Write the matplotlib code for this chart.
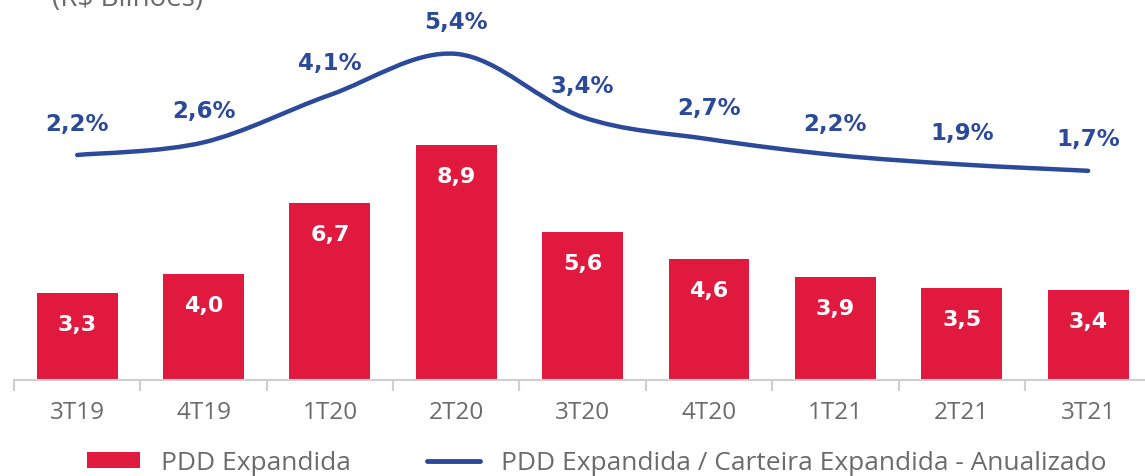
import matplotlib
matplotlib.use("Agg")
import matplotlib.pyplot as plt
import numpy as np
from matplotlib.path import Path
from matplotlib.patches import PathPatch, Patch
from matplotlib.lines import Line2D

categories = ["3T19", "4T19", "1T20", "2T20", "3T20", "4T20", "1T21", "2T21", "3T21"]
pdd = [3.3, 4.0, 6.7, 8.9, 5.6, 4.6, 3.9, 3.5, 3.4]
ratio = [2.2, 2.6, 4.1, 5.4, 3.4, 2.7, 2.2, 1.9, 1.7]

RED = "#E1193F"
BLUE = "#2C4A9A"
GREY = "#6b6b6b"

fig = plt.figure(figsize=(11.45, 4.76), dpi=100)
ax = fig.add_axes([14/1145, 96/476, 1131/1145, 380/476])
x = np.arange(len(categories))

ax.bar(x, pdd, width=0.64, color=RED, zorder=2)
ax.set_xlim(-0.5, 8.45)
ax.set_ylim(0, 14.39)
for s in ["top", "right", "left"]:
    ax.spines[s].set_visible(False)
ax.spines["bottom"].set_color("#cfcfcf")
ax.spines["bottom"].set_linewidth(1.5)
ax.set_yticks([])
ax.set_xticks(np.arange(-0.5, 8.5, 1.0))
ax.set_xticklabels([])
ax.tick_params(axis="x", length=8, width=1.5, color="#cfcfcf")
ax.set_xticks(x, minor=True)
ax.set_xticklabels(categories, minor=True, fontsize=17.5, color=GREY, family="Open Sans")
ax.tick_params(axis="x", which="minor", length=0, pad=15)

for xi, v in zip(x, pdd):
    ax.annotate(f"{v:.1f}".replace(".", ","), (xi, v), xytext=(0, -32), textcoords="offset pixels",
                ha="center", va="center", color="white", fontsize=16, fontweight="bold", family="DejaVu Sans")

ax2 = ax.twinx()
ax2.set_ylim(-4.92, 7.105)
ax2.axis("off")

# smooth curve through the data points (Catmull-Rom -> Bezier)
pts = np.column_stack([x, ratio]).astype(float)
verts = [tuple(pts[0])]
codes = [Path.MOVETO]
n = len(pts)
t = 1/6
for i in range(n - 1):
    p0 = pts[i - 1] if i > 0 else pts[i]
    p1 = pts[i]
    p2 = pts[i + 1]
    p3 = pts[i + 2] if i + 2 < n else pts[i + 1]
    c1 = p1 + (p2 - p0) * t
    c2 = p2 - (p3 - p1) * t
    verts += [tuple(c1), tuple(c2), tuple(p2)]
    codes += [Path.CURVE4] * 3
ax2.add_patch(PathPatch(Path(verts, codes), facecolor="none", edgecolor=BLUE, lw=3.2, capstyle="round", zorder=3))

for xi, v in zip(x, ratio):
    ax2.annotate(f"{v:.1f}%".replace(".", ","), (xi, v), xytext=(0, 31), textcoords="offset pixels",
                 ha="center", va="center", color=BLUE, fontsize=16.5, fontweight="bold", family="DejaVu Sans")

fig.text(52/1145, 1 - 6/476, "(R$ Bilhões)", ha="left", va="baseline", fontsize=20, color=GREY, family="Open Sans")

handles = [Patch(facecolor=RED, edgecolor="none"), Line2D([0], [0], color=BLUE, lw=3.5, solid_capstyle="round")]
labels = ["PDD Expandida", "PDD Expandida / Carteira Expandida - Anualizado"]
fig.legend(handles, labels, loc="center left", bbox_to_anchor=(87/1145, 1 - 463/476), ncol=2, frameon=False,
           labelcolor=GREY, prop={"family": "Open Sans", "size": 19}, handlelength=2.0, handleheight=0.57,
           handletextpad=0.8, columnspacing=2.9, borderpad=0, borderaxespad=0)

fig.savefig("out.png", dpi=100)
